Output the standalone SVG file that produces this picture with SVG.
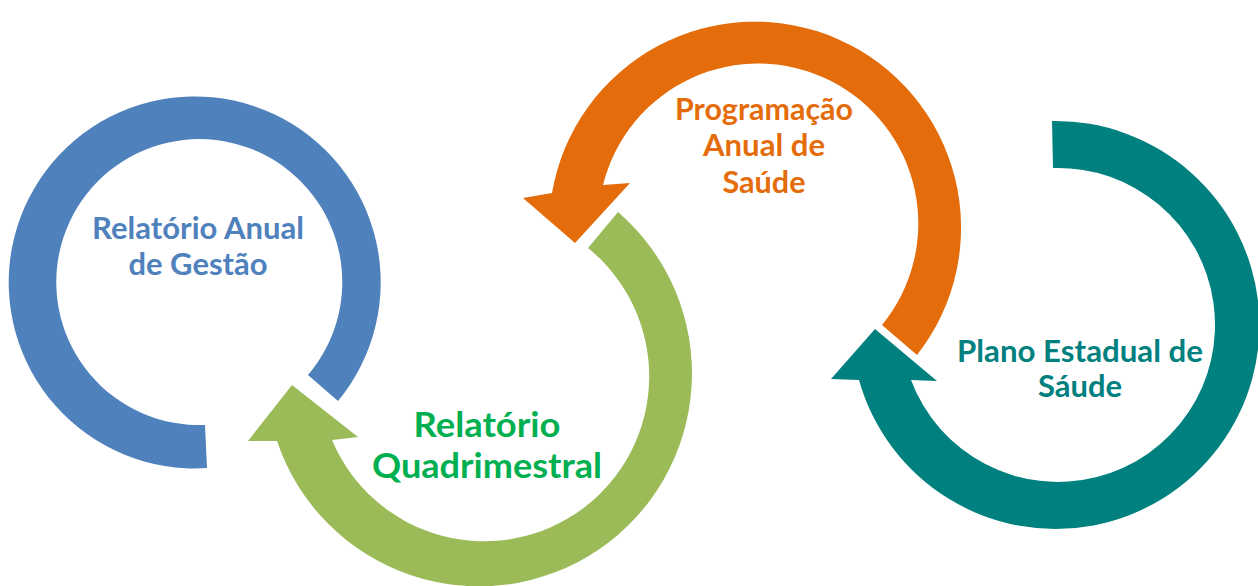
<svg xmlns="http://www.w3.org/2000/svg" width="1258" height="586" viewBox="0 0 1258 586">
  <style>
    .lbl { font-family: Lato, "Open Sans", "Liberation Sans", sans-serif; font-weight: bold; text-anchor: middle; }
    .blue { fill: #4F81BD; }
    .green { fill: #9BBB59; }
    .orange { fill: #E46C0A; }
    .teal { fill: #00807E; }
    .t-blue { fill: #4F81BD; font-size: 30px; }
    .t-green { fill: #00B050; font-size: 35px; }
    .t-orange { fill: #E46C0A; font-size: 30px; }
    .t-teal { fill: #00807E; font-size: 30px; }
  </style>
  <rect width="1258" height="586" fill="#FFFFFF"/>
  <g id="connectors"></g>
  <g id="node-relatorio-anual">
    <path class="blue" d="M 207 468 A 186 186 0 1 1 338 401 L 308 375 A 143 143 0 1 0 205 425 Z"/>
    <text class="lbl t-blue" x="198" y="239" textLength="212" lengthAdjust="spacingAndGlyphs">Relatório Anual</text>
    <text class="lbl t-blue" x="198" y="275" textLength="139" lengthAdjust="spacingAndGlyphs">de Gestão</text>
  </g>
  <g id="node-relatorio-quadrimestral">
    <path class="green" d="M 618 212 A 213 213 0 1 1 277 441 L 248 441 L 292 385 L 358 437 L 332 440 A 165 165 0 1 0 588 248 Z"/>
    <text class="lbl t-green" x="487" y="437" textLength="147" lengthAdjust="spacingAndGlyphs">Relatório</text>
    <text class="lbl t-green" x="487" y="478" textLength="230" lengthAdjust="spacingAndGlyphs">Quadrimestral</text>
  </g>
  <g id="node-programacao">
    <path class="orange" d="M 917 355 A 206 206 0 1 0 552 193 L 523 198 L 575 243 L 630 183 L 603 185 A 160 160 0 1 1 882 325 Z"/>
    <text class="lbl t-orange" x="764" y="120" textLength="178" lengthAdjust="spacingAndGlyphs">Programação</text>
    <text class="lbl t-orange" x="764" y="156" textLength="122" lengthAdjust="spacingAndGlyphs">Anual de</text>
    <text class="lbl t-orange" x="764" y="193" textLength="83" lengthAdjust="spacingAndGlyphs">Saúde</text>
  </g>
  <g id="node-plano-estadual">
    <path class="teal" d="M 1052 121 A 204 204 0 1 1 859 380 L 831 379 L 875 329 L 937 381 L 911 380 A 157 157 0 1 0 1053 168 Z"/>
    <text class="lbl t-teal" x="1080" y="362" textLength="246" lengthAdjust="spacingAndGlyphs">Plano Estadual de</text>
    <text class="lbl t-teal" x="1080" y="397" textLength="84" lengthAdjust="spacingAndGlyphs">Sáude</text>
  </g>
</svg>
